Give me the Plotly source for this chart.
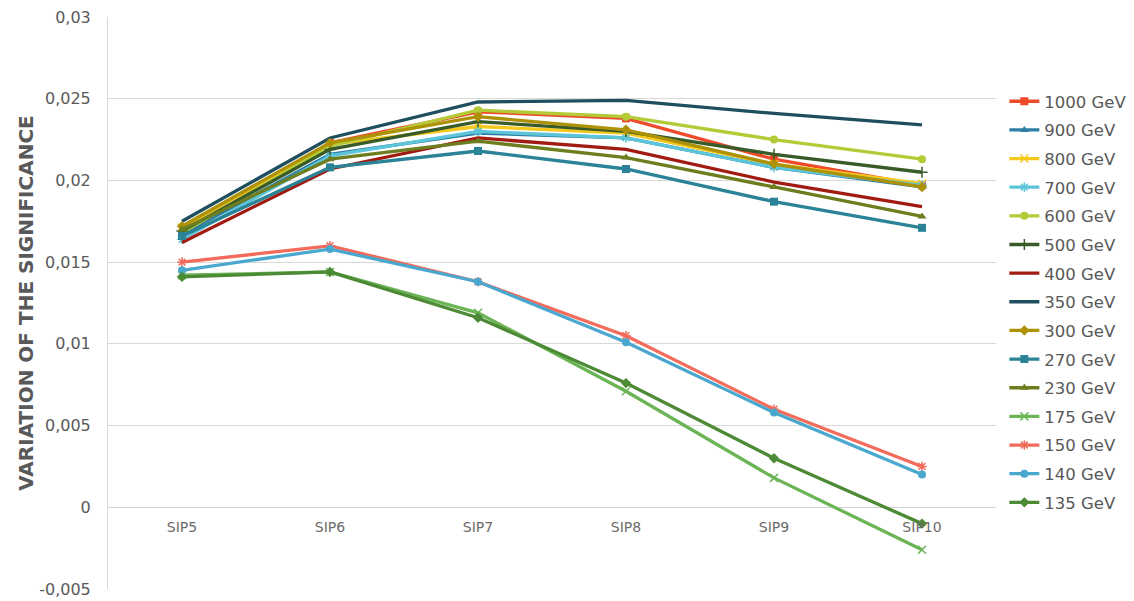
import plotly.graph_objects as go

# Categories on the x axis
categories = ["SIP5", "SIP6", "SIP7", "SIP8", "SIP9", "SIP10"]

# Variation of the significance per mass hypothesis
sig_1000 = [0.0167, 0.0223, 0.0242, 0.0238, 0.0213, 0.0197]
sig_900 = [0.0167, 0.0216, 0.0229, 0.0226, 0.0208, 0.0196]
sig_800 = [0.0171, 0.0222, 0.0233, 0.0229, 0.0210, 0.0198]
sig_700 = [0.0164, 0.0215, 0.0230, 0.0226, 0.0208, 0.0197]
sig_600 = [0.0168, 0.0221, 0.0243, 0.0239, 0.0225, 0.0213]
sig_500 = [0.0169, 0.0219, 0.0236, 0.0230, 0.0216, 0.0205]
sig_400 = [0.0162, 0.0207, 0.0226, 0.0219, 0.0199, 0.0184]
sig_350 = [0.0175, 0.0226, 0.0248, 0.0249, 0.0241, 0.0234]
sig_300 = [0.0172, 0.0223, 0.0239, 0.0231, 0.0210, 0.0196]
sig_270 = [0.0166, 0.0208, 0.0218, 0.0207, 0.0187, 0.0171]
sig_230 = [0.0170, 0.0213, 0.0224, 0.0214, 0.0196, 0.0178]
sig_175 = [0.0142, 0.0144, 0.0119, 0.0071, 0.0018, -0.0026]
sig_150 = [0.0150, 0.0160, 0.0138, 0.0105, 0.0060, 0.0025]
sig_140 = [0.0145, 0.0158, 0.0138, 0.0101, 0.0058, 0.0020]
sig_135 = [0.0141, 0.0144, 0.0116, 0.0076, 0.0030, -0.0010]

# y-axis ticks
y_ticks = [-0.005, 0, 0.005, 0.01, 0.015, 0.02, 0.025, 0.03]
y_tick_labels = ["-0,005", "0", "0,005", "0,01", "0,015", "0,02", "0,025", "0,03"]
y_range = [-0.005, 0.03]

series = [
    ("1000 GeV", sig_1000, "#EE4B2B", "square"),
    ("900 GeV", sig_900, "#2F7FA3", "triangle-up"),
    ("800 GeV", sig_800, "#F4C81C", "x-thin"),
    ("700 GeV", sig_700, "#5CC5D9", "asterisk"),
    ("600 GeV", sig_600, "#B3CB36", "circle"),
    ("500 GeV", sig_500, "#395B28", "cross-thin"),
    ("400 GeV", sig_400, "#A11B13", None),
    ("350 GeV", sig_350, "#1F4E5E", None),
    ("300 GeV", sig_300, "#AD9107", "diamond"),
    ("270 GeV", sig_270, "#2A8396", "square"),
    ("230 GeV", sig_230, "#6C7E1F", "triangle-up"),
    ("175 GeV", sig_175, "#6CB556", "x-thin"),
    ("150 GeV", sig_150, "#F26B5B", "asterisk"),
    ("140 GeV", sig_140, "#4AA8CF", "circle"),
    ("135 GeV", sig_135, "#4C8A35", "diamond"),
]

fig = go.Figure()
for name, vals, color, sym in series:
    if sym is None:
        mode = "lines"
        marker = dict()
    else:
        mode = "lines+markers"
        thin = sym in ("x-thin", "cross-thin", "asterisk")
        marker = dict(symbol=sym, size=8, color=color,
                      line=dict(color=color, width=1.5 if thin else 0))
    fig.add_trace(go.Scatter(
        x=categories, y=vals, name=name, mode=mode,
        line=dict(color=color, width=3.3), marker=marker,
        legendgroup=name,
    ))

fig.update_layout(
    width=1134, height=601,
    margin=dict(l=108, r=138, t=17, b=12, autoexpand=False),
    paper_bgcolor="white", plot_bgcolor="white",
    font=dict(family="DejaVu Sans", color="#595959", size=14),
    separators=", ",
    showlegend=True,
    legend=dict(
        x=1.0094, xanchor="left", y=(589 - 84) / 572, yanchor="top",
        traceorder="grouped", tracegroupgap=4.2,
        font=dict(size=16.5, color="#595959"),
        bgcolor="rgba(0,0,0,0)", itemwidth=30,
    ),
)

fig.update_xaxes(
    type="category", range=[-0.5, len(categories) - 0.5],
    showgrid=False, showline=False, ticks="", automargin=False,
    anchor="free", position=(0 - y_range[0]) / (y_range[1] - y_range[0]),
    ticklabelstandoff=10,
    tickfont=dict(size=14, color="#6b6b6b"),
)
fig.update_yaxes(
    range=y_range, tickvals=y_ticks, ticktext=y_tick_labels,
    showgrid=True, gridcolor="#D9D9D9", gridwidth=1,
    zeroline=True, zerolinecolor="#D0D0D0", zerolinewidth=1,
    showline=True, linecolor="#D9D9D9", linewidth=1,
    ticks="", ticklabelstandoff=13, automargin=False,
    tickfont=dict(size=16, color="#595959"),
    title=dict(text="<b>VARIATION OF THE SIGNIFICANCE</b>",
               font=dict(size=20, color="#595959"), standoff=0),
)

fig.write_html("out.html")
